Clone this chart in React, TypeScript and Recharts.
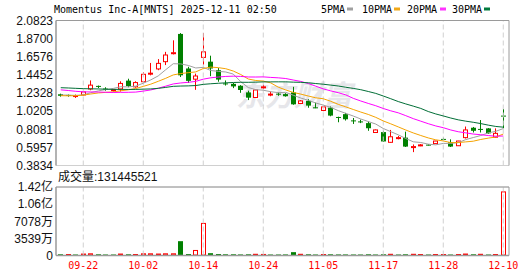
import React from "react";
import {
  ComposedChart,
  Bar,
  Line,
  XAxis,
  YAxis,
  CartesianGrid,
  ReferenceLine,
} from "recharts";

// ---------------- data ----------------
const dates = [
  "09-17", "09-18", "09-19", "09-22", "09-23", "09-24", "09-25", "09-26", "09-29", "09-30",
  "10-01", "10-02", "10-03", "10-06", "10-07", "10-08", "10-09", "10-10", "10-13", "10-14",
  "10-15", "10-16", "10-17", "10-20", "10-21", "10-22", "10-23", "10-24", "10-27", "10-28",
  "10-29", "10-30", "10-31", "11-03", "11-04", "11-05", "11-06", "11-07", "11-10", "11-11",
  "11-12", "11-13", "11-14", "11-17", "11-18", "11-19", "11-20", "11-21", "11-24", "11-25",
  "11-26", "11-28", "12-01", "12-02", "12-03", "12-04", "12-05", "12-08", "12-09", "12-10",
];

const opens = [
  1.218, 1.21, 1.198, 1.21, 1.28, 1.316, 1.285, 1.262, 1.28, 1.378,
  1.305, 1.365, 1.458, 1.515, 1.6, 1.7, 1.925, 1.52, 1.395, 1.65,
  1.6, 1.5, 1.345, 1.34, 1.318, 1.24, 1.18, 1.3, 1.215, 1.225,
  1.22, 1.24, 1.11, 1.14, 1.065, 1.028, 1.06, 0.952, 0.985, 0.912,
  0.9, 0.88, 0.77, 0.775, 0.655, 0.705, 0.71, 0.6, 0.62, 0.628,
  0.64, 0.695, 0.655, 0.615, 0.71, 0.826, 0.812, 0.818, 0.715, 0.968,
];

const highs = [
  1.225, 1.215, 1.215, 1.25, 1.38, 1.32, 1.3, 1.28, 1.37, 1.4,
  1.37, 1.475, 1.585, 1.63, 1.715, 1.85, 1.935, 1.54, 1.46, 1.935,
  1.67, 1.525, 1.38, 1.35, 1.325, 1.26, 1.27, 1.33, 1.25, 1.24,
  1.23, 1.305, 1.15, 1.16, 1.12, 1.08, 1.075, 0.955, 1.0, 0.94,
  0.92, 0.9, 0.805, 0.79, 0.8, 0.73, 0.78, 0.63, 0.635, 0.632,
  0.672, 0.71, 0.69, 0.672, 0.84, 0.835, 0.916, 0.822, 0.818, 1.045,
];

const lows = [
  1.19, 1.19, 1.175, 1.205, 1.265, 1.29, 1.26, 1.25, 1.25, 1.3,
  1.295, 1.355, 1.44, 1.5, 1.56, 1.685, 1.42, 1.35, 1.27, 1.565,
  1.43, 1.365, 1.32, 1.29, 1.235, 1.15, 1.175, 1.28, 1.195, 1.2,
  1.19, 1.095, 1.105, 1.06, 1.055, 1.02, 0.96, 0.89, 0.91, 0.87,
  0.88, 0.79, 0.765, 0.66, 0.65, 0.69, 0.6, 0.54, 0.61, 0.618,
  0.636, 0.688, 0.6, 0.612, 0.7, 0.77, 0.77, 0.755, 0.712, 0.82,
];

const closes = [
  1.2, 1.205, 1.203, 1.245, 1.325, 1.31, 1.28, 1.272, 1.345, 1.315,
  1.355, 1.452, 1.465, 1.58, 1.678, 1.705, 1.44, 1.375, 1.432, 1.715,
  1.52, 1.39, 1.338, 1.31, 1.268, 1.178, 1.268, 1.305, 1.22, 1.215,
  1.195, 1.1, 1.14, 1.085, 1.06, 1.07, 0.968, 0.948, 0.925, 0.905,
  0.895, 0.82, 0.8, 0.665, 0.72, 0.71, 0.605, 0.605, 0.625, 0.622,
  0.67, 0.69, 0.605, 0.67, 0.8, 0.79, 0.808, 0.76, 0.76, 0.962,
];

const volumes = [
  2500000, 2000000, 1800000, 3000000, 3500000, 2500000, 2000000, 1800000, 3000000, 2500000,
  2000000, 3500000, 3500000, 3000000, 3500000, 3500000, 29600000, 3000000, 10400000, 66300000,
  4800000, 3000000, 2500000, 2500000, 2200000, 2500000, 2500000, 2200000, 2000000, 2000000,
  2200000, 6900000, 2500000, 2500000, 2000000, 2000000, 2500000, 2200000, 2200000, 2000000,
  2000000, 2500000, 2000000, 2500000, 2500000, 2000000, 2500000, 2500000, 2000000, 2000000,
  2000000, 1500000, 2000000, 2000000, 3000000, 2500000, 2500000, 2000000, 2000000, 131445521,
];

// closes of the 29 sessions before the first visible one (needed for the moving averages)
const priorCloses = [
  1.3, 1.33, 1.36, 1.38, 1.35, 1.37, 1.34, 1.33, 1.35, 1.34,
  1.36, 1.39, 1.37, 1.35, 1.33, 1.34, 1.32, 1.31, 1.3, 1.31,
  1.22, 1.19, 1.18, 1.19, 1.19, 1.21, 1.22, 1.21, 1.205,
];

const priceTicks = [0.3834, 0.5957, 0.8081, 1.0205, 1.2328, 1.4452, 1.6576, 1.87, 2.0823];
const volumeTicks = [0, 35390000, 70780000, 106170000, 141560000];
const dateTicks = ["09-22", "10-02", "10-14", "10-24", "11-05", "11-17", "11-28", "12-10"];
const maPeriods = [5, 10, 20, 30];
const maLabels = ["5PMA", "10PMA", "20PMA", "30PMA"];

// ---------------- styles ----------------
const RED = "#ff0000";
const GREEN = "#008000";
const MA_COLORS = ["#a0a0a0", "#f5a300", "#ff00ff", "#006e36"];
const LEGEND_COLORS = ["#a0a0a0", "#f0a818", "#ff33ff", "#007a3d"];
const FRAME = "#9a9a9a";
const GRID = "#d0d0d0";
const W = 530;
const H = 276;

const allCloses = priorCloses.concat(closes);
function movingAverage(n: number, i: number) {
  const end = priorCloses.length + i;
  let s = 0;
  for (let k = end - n + 1; k <= end; k++) s += allCloses[k];
  return s / n;
}

const rows = dates.map((date, i) => {
  const prevClose = i === 0 ? priorCloses[priorCloses.length - 1] : closes[i - 1];
  const row: any = {
    date,
    open: opens[i],
    high: highs[i],
    low: lows[i],
    close: closes[i],
    volume: volumes[i],
    volUp: closes[i] >= prevClose,
  };
  maPeriods.forEach((p) => {
    row["ma" + p] = movingAverage(p, i);
  });
  return row;
});

function CandleShape(props: any) {
  const { x, y, width, height, payload } = props;
  if (!payload || x == null || y == null) return <g />;
  const { open, close, high, low } = payload;
  const yTop = Math.min(y, y + height);
  const yBot = Math.max(y, y + height);
  const span = high - low || 1;
  const toY = (v: number) => yTop + ((high - v) / span) * (yBot - yTop);
  const cx = Math.floor(x + width / 2) + 0.5;
  const up = close >= open;
  const color = up ? RED : GREEN;
  const bTop = toY(Math.max(open, close));
  const bBot = toY(Math.min(open, close));
  if (up) {
    const h = Math.max(bBot - bTop, 1);
    return (
      <g>
        <line x1={cx} x2={cx} y1={yTop} y2={yBot} stroke={color} strokeWidth={1} />
        <rect x={cx - 2} y={bTop} width={4} height={h} fill="#ffffff" stroke={color} strokeWidth={1} />
      </g>
    );
  }
  const h = Math.max(bBot - bTop, 1);
  return (
    <g>
      <line x1={cx} x2={cx} y1={yTop} y2={yBot} stroke={color} strokeWidth={1} />
      <rect x={cx - 2.5} y={bTop} width={5} height={h} fill={color} />
    </g>
  );
}

function VolumeShape(props: any) {
  const { x, y, width, height, payload } = props;
  if (!payload || x == null || y == null) return <g />;
  const base = Math.max(y, y + height);
  const top = Math.min(y, y + height);
  const cx = Math.floor(x + width / 2) + 0.5;
  const h = Math.max(base - top, 1);
  if (payload.volUp) {
    return (
      <rect x={cx - 2} y={base - h} width={4} height={Math.max(h - 0.5, 0.5)} fill="#ffffff" stroke={RED} strokeWidth={1} />
    );
  }
  return <rect x={cx - 2.5} y={base - h} width={5} height={h} fill={GREEN} />;
}

const formatVolume = (v: number) => {
  if (v === 0) return "0";
  if (v >= 1e8) return (v / 1e8).toFixed(2) + "亿";
  return Math.round(v / 1e4) + "万";
};

const axisFont = { fontSize: 12, fill: "#111", fontFamily: "'Liberation Sans', 'Noto Sans CJK SC', sans-serif" };

export default function App() {
  return (
    <div style={{ position: "absolute", left: 0, top: 0, width: W, height: H, background: "#fff", overflow: "hidden" }}>
      {/* watermark */}
      <svg width={W} height={H} style={{ position: "absolute", left: 0, top: 0 }}>
        <text
          x={236}
          y={106}
          fontSize={29}
          fontWeight="bold"
          fontStyle="italic"
          fill="#e6e6ea"
          fontFamily="'Noto Sans CJK SC', sans-serif"
        >
          东方财富
        </text>
      </svg>

      {/* price pane */}
      <div style={{ position: "absolute", left: 0, top: 0 }}>
        <ComposedChart
          width={W}
          height={H}
          data={rows}
          margin={{ top: 20.5, right: 0, bottom: 110.5, left: 0 }}
          barCategoryGap="10%"
        >
          <CartesianGrid horizontal={true} vertical={false} stroke={GRID} />
          <XAxis
            dataKey="date"
            type="category"
            height={0}
            tick={false}
            tickLine={false}
            axisLine={{ stroke: FRAME, strokeWidth: 1.5 }}
            padding={{ left: 1, right: 2 }}
          />
          <YAxis
            yAxisId="p"
            type="number"
            domain={[0.3834, 2.0823]}
            ticks={priceTicks}
            interval={0}
            allowDataOverflow
            width={56}
            tickLine={false}
            tickSize={0}
            tickMargin={3}
            axisLine={{ stroke: FRAME, strokeWidth: 1.5 }}
            tick={axisFont}
            tickFormatter={(v: number) => v.toFixed(4)}
          />
          <YAxis
            yAxisId="r"
            orientation="right"
            type="number"
            domain={[0, 1]}
            ticks={[]}
            width={21}
            tick={false}
            tickLine={false}
            axisLine={{ stroke: FRAME }}
          />
          {dateTicks.map((d) => (
            <ReferenceLine key={d} yAxisId="p" x={d} stroke={GRID} strokeDasharray="5 3" />
          ))}
          <ReferenceLine yAxisId="p" y={2.0823} stroke={FRAME} />
          <Bar
            yAxisId="p"
            dataKey={(d: any) => [d.low, d.high]}
            shape={CandleShape}
            isAnimationActive={false}
          />
          {maPeriods.map((p, k) => (
            <Line
              key={p}
              yAxisId="p"
              type="linear"
              dataKey={"ma" + p}
              stroke={MA_COLORS[k]}
              strokeWidth={1}
              dot={false}
              activeDot={false}
              isAnimationActive={false}
            />
          ))}
        </ComposedChart>
      </div>

      {/* volume pane */}
      <div style={{ position: "absolute", left: 0, top: 0 }}>
        <ComposedChart
          width={W}
          height={H}
          data={rows}
          margin={{ top: 187, right: 0, bottom: 0.5, left: 0 }}
          barCategoryGap="10%"
        >
          <CartesianGrid horizontal={true} vertical={false} stroke={GRID} />
          <XAxis
            dataKey="date"
            type="category"
            height={20}
            ticks={dateTicks}
            interval={0}
            tickLine={false}
            tickSize={6}
            tickMargin={0.5}
            axisLine={{ stroke: FRAME, strokeWidth: 1.5 }}
            padding={{ left: 1, right: 2 }}
            tick={{ fontSize: 10, fill: RED, fontFamily: "'DejaVu Sans Mono', monospace" }}
          />
          <YAxis
            yAxisId="v"
            type="number"
            domain={[0, 141560000]}
            ticks={volumeTicks}
            interval={0}
            allowDataOverflow
            width={56}
            tickLine={false}
            tickSize={0}
            tickMargin={3}
            axisLine={{ stroke: FRAME, strokeWidth: 1.5 }}
            tick={axisFont}
            tickFormatter={formatVolume}
          />
          <YAxis
            yAxisId="r"
            orientation="right"
            type="number"
            domain={[0, 1]}
            ticks={[]}
            width={21}
            tick={false}
            tickLine={false}
            axisLine={{ stroke: FRAME }}
          />
          {dateTicks.map((d) => (
            <ReferenceLine key={d} yAxisId="v" x={d} stroke={GRID} strokeDasharray="5 3" />
          ))}
          <ReferenceLine yAxisId="v" y={141560000} stroke={FRAME} />
          <Bar yAxisId="v" dataKey="volume" shape={VolumeShape} isAnimationActive={false} />
        </ComposedChart>
      </div>

      {/* title, legend, volume label */}
      <svg width={W} height={H} style={{ position: "absolute", left: 0, top: 0, pointerEvents: "none" }}>
        <text x={54} y={13} fontSize={10} fontFamily="'DejaVu Sans Mono', monospace" fill="#000">
          Momentus Inc-A[MNTS] 2025-12-11 02:50
        </text>
        {maLabels.map((label, k) => {
          const xs = [321, 362, 407, 452];
          const sx = [347, 394, 440, 484];
          return (
            <g key={label}>
              <text x={xs[k]} y={13} fontSize={10} fontFamily="'DejaVu Sans Mono', monospace" fill="#000">
                {label}
              </text>
              <rect x={sx[k]} y={7.5} width={6} height={3} fill={LEGEND_COLORS[k]} />
            </g>
          );
        })}
        <text x={58} y={181} fontSize={12} fontFamily="'Liberation Sans', 'Noto Sans CJK SC', sans-serif" fill="#111">
          成交量:131445521
        </text>
      </svg>
    </div>
  );
}
